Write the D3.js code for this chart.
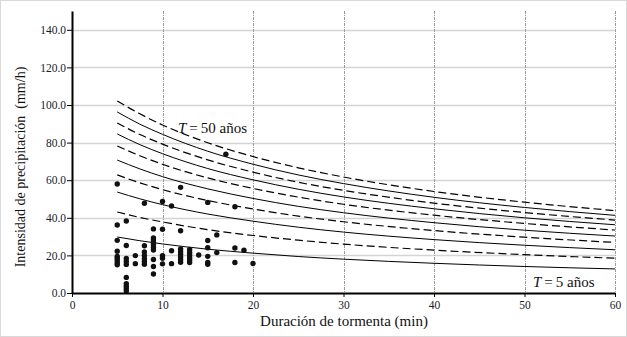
<!DOCTYPE html>
<html>
<head>
<meta charset="utf-8">
<script src="https://cdn.jsdelivr.net/npm/d3@7"></script>
<style>
  body { margin: 0; background: #fff; }
  svg { display: block; }
</style>
</head>
<body>
<svg id="chart" width="627" height="337"></svg>
<script>
// =========================================
// CURVES IDF + OBSERVACIONS
// Intensitat vs durada de tormenta
// =========================================

// Durades on es llegeixen les corbes (min)
const durations = [5, 7.5, 10, 15, 20, 25, 30, 40, 50, 60];

// Corbes IDF (mm/h), de T = 5 a T = 50 anys
const idfT5  = [29.8, 27.8, 26.1, 23.3, 21.2, 19.4, 18.0, 15.8, 14.1, 12.8];
const idfT10 = [43.1, 40.2, 37.8, 33.7, 30.6, 28.1, 26.0, 22.8, 20.4, 18.5];
const idfT15 = [53.7, 50.1, 47.0, 42.0, 38.2, 35.0, 32.4, 28.4, 25.4, 23.0];
const idfT20 = [62.8, 58.6, 55.0, 49.2, 44.7, 40.9, 37.9, 33.2, 29.7, 26.9];
const idfT25 = [70.7, 66.0, 61.9, 55.4, 50.3, 46.1, 42.7, 37.4, 33.4, 30.3];
const idfT30 = [78.2, 73.0, 68.5, 61.2, 55.6, 51.0, 47.2, 41.4, 37.0, 33.5];
const idfT35 = [84.6, 78.9, 74.1, 66.2, 60.2, 55.2, 51.1, 44.8, 40.0, 36.3];
const idfT40 = [90.4, 84.3, 79.2, 70.8, 64.3, 58.9, 54.6, 47.8, 42.8, 38.8];
const idfT45 = [96.3, 89.8, 84.4, 75.4, 68.5, 62.8, 58.2, 50.9, 45.5, 41.3];
const idfT50 = [102.1, 95.3, 89.4, 79.9, 72.6, 66.6, 61.7, 54.0, 48.3, 43.8];

const returnPeriods = [5, 10, 15, 20, 25, 30, 35, 40, 45, 50];
const idfSeries = [idfT5, idfT10, idfT15, idfT20, idfT25, idfT30, idfT35, idfT40, idfT45, idfT50];

// Tempestes observades
const obsDuration = [
  5, 5, 5, 5, 5, 5, 5, 5, 5,
  6, 6, 6, 6, 6, 6, 6, 6, 6, 6,
  7, 7,
  8, 8, 8, 8, 8, 8, 8,
  9, 9, 9, 9, 9, 9, 9, 9, 9, 9,
  10, 10, 10, 10, 10,
  11, 11, 11,
  12, 12, 12, 12, 12, 12, 12, 12,
  13, 13, 13, 13, 13, 13,
  14,
  15, 15, 15, 15, 15, 15,
  16, 16,
  17,
  18, 18, 18,
  19,
  20
];
const obsIntensity = [
  58.0, 36.2, 28.0, 22.2, 19.5, 18.5, 17.3, 16.0, 15.0,
  38.3, 25.3, 18.4, 16.7, 15.2, 8.3, 5.0, 3.6, 2.3, 1.0,
  19.9, 15.6,
  47.7, 25.1, 21.8, 19.9, 18.2, 16.8, 15.3,
  34.1, 29.3, 28.2, 26.9, 25.6, 24.2, 22.9, 17.8, 14.1, 10.1,
  48.7, 33.9, 19.8, 18.5, 15.5,
  46.3, 22.5, 15.6,
  56.2, 33.1, 23.4, 22.0, 20.6, 19.1, 17.7, 16.3,
  23.1, 21.6, 20.2, 18.8, 17.5, 16.2,
  20.2,
  48.2, 27.9, 24.1, 19.5, 16.2, 15.3,
  30.9, 21.5,
  73.8,
  45.9, 23.9, 16.2,
  22.7,
  15.7
];

const xTicks = [0, 10, 20, 30, 40, 50, 60];
const yTicks = [0, 20, 40, 60, 80, 100, 120, 140];


// =========================
// ESCALES
// =========================

const svg = d3.select("#chart");
const width = 627;
const height = 337;

const x = d3.scaleLinear().domain([0, 60]).range([72, 615]);
const y = d3.scaleLinear().domain([0, 150]).range([293, 11]);

const serif = "'Liberation Serif', 'Times New Roman', serif";


// =========================
// MARC I GRAELLA
// =========================

svg.append("rect")
  .attr("x", 0.5)
  .attr("y", 0.5)
  .attr("width", width - 1)
  .attr("height", height - 1)
  .attr("fill", "white")
  .attr("stroke", "#d9d9d9");

svg.append("g")
  .selectAll("line")
  .data(yTicks.filter(d => d > 0))
  .enter()
  .append("line")
  .attr("x1", x(0))
  .attr("x2", x(60))
  .attr("y1", d => Math.round(y(d)) + 0.5)
  .attr("y2", d => Math.round(y(d)) + 0.5)
  .attr("stroke", "#d4d4d4")
  .attr("stroke-width", 1.5);

svg.append("g")
  .selectAll("line")
  .data(xTicks.filter(d => d > 0))
  .enter()
  .append("line")
  .attr("x1", d => Math.round(x(d)) + 0.5)
  .attr("x2", d => Math.round(x(d)) + 0.5)
  .attr("y1", y(150))
  .attr("y2", y(0))
  .attr("stroke", "#9a9a9a")
  .attr("stroke-width", 1)
  .attr("stroke-dasharray", "3,1,1,1");


// =========================
// CORBES IDF
// =========================

const line = d3.line()
  .x(d => x(d[0]))
  .y(d => y(d[1]))
  .curve(d3.curveMonotoneX);

svg.append("g")
  .selectAll("path")
  .data(idfSeries.map((s, i) => ({ T: returnPeriods[i], values: s })))
  .enter()
  .append("path")
  .attr("d", d => line(durations.map((t, j) => [t, d.values[j]])))
  .attr("fill", "none")
  .attr("stroke", "#000")
  .attr("stroke-width", d => d.T % 10 === 0 ? 1.2 : 1)
  .attr("stroke-dasharray", d => d.T % 10 === 0 ? "8,4" : null);


// =========================
// PUNTS OBSERVATS
// =========================

svg.append("g")
  .selectAll("circle")
  .data(obsDuration.map((t, i) => [t, obsIntensity[i]]))
  .enter()
  .append("circle")
  .attr("cx", d => x(d[0]))
  .attr("cy", d => y(d[1]))
  .attr("r", 2.7)
  .attr("fill", "#111");


// =========================
// EIXOS
// =========================

const yAxis = svg.append("g")
  .attr("transform", `translate(${x(0)},0)`)
  .call(d3.axisLeft(y).tickValues(yTicks).tickFormat(d3.format(".1f")).tickSize(5).tickSizeOuter(0));

const xAxis = svg.append("g")
  .attr("transform", `translate(0,${y(0)})`)
  .call(d3.axisBottom(x).tickValues(xTicks).tickFormat(d3.format("d")).tickSize(4).tickSizeOuter(0));

[yAxis, xAxis].forEach(ax => {
  ax.attr("font-family", serif).attr("font-size", 11.5);
  ax.select(".domain").attr("stroke", "#000").attr("stroke-width", 2);
  ax.selectAll(".tick line").attr("stroke", "#000").attr("stroke-width", 1);
  ax.selectAll(".tick text")
    .style("font-family", serif)
    .style("font-size", "11.5px")
    .attr("fill", "#1a1a2a");
});

yAxis.selectAll(".tick text").attr("x", -6);
xAxis.selectAll(".tick text").attr("y", 8);


// =========================
// TÍTOLS I ETIQUETES
// =========================

svg.append("text")
  .attr("transform", `translate(25, ${(y(0) + y(150)) / 2 + 15}) rotate(-90)`)
  .attr("text-anchor", "middle")
  .style("font-family", serif)
  .style("font-size", "14px")
  .style("white-space", "pre")
  .attr("fill", "#111")
  .text("Intensidad de precipitación  (mm/h)");

svg.append("text")
  .attr("x", 344)
  .attr("y", 326)
  .attr("text-anchor", "middle")
  .style("font-family", serif)
  .style("font-size", "15px")
  .attr("fill", "#111")
  .text("Duración de tormenta (min)");

function drawTLabel(xPos, yPos, years) {
  const t = svg.append("text")
    .attr("x", xPos)
    .attr("y", yPos)
    .style("font-family", serif)
    .style("font-size", "15px")
    .attr("fill", "#111");
  t.append("tspan").style("font-style", "italic").text("T");
  t.append("tspan").text(`\u2009=\u2009${years} años`);
}

drawTLabel(178, 133, 50);
drawTLabel(533, 287, 5);
</script>
</body>
</html>
